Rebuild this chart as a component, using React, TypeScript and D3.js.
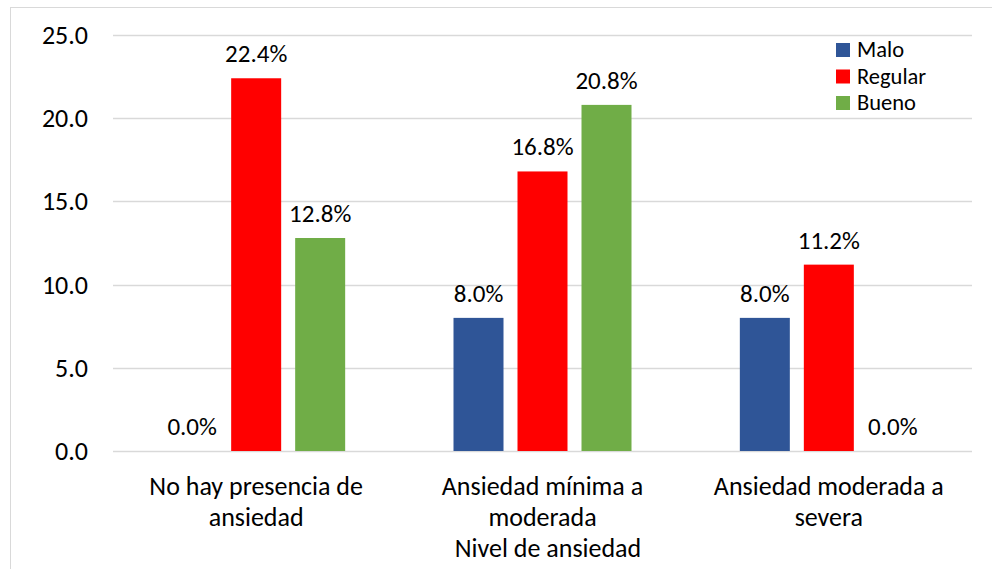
import React, { useEffect, useRef } from "react";
import * as d3 from "d3";

const categories = [
  ["No hay presencia de", "ansiedad"],
  ["Ansiedad mínima a", "moderada"],
  ["Ansiedad moderada a", "severa"],
];
const seriesNames = ["Malo", "Regular", "Bueno"];
const malo = [0.0, 8.0, 8.0];
const regular = [22.4, 16.8, 11.2];
const bueno = [12.8, 20.8, 0.0];
const yTicks = [0, 5, 10, 15, 20, 25];
const colors = ["#2F5597", "#FF0000", "#70AD47"];
const axisTitle = "Nivel de ansiedad";

const FONT = "Carlito, Calibri, Lato, sans-serif";

export default function App() {
  const ref = useRef<SVGSVGElement>(null);
  const width = 992;
  const height = 569;

  useEffect(() => {
    const svg = d3.select(ref.current);
    svg.selectAll("*").remove();

    const left = 113;
    const right = 972;
    const top = 35;
    const bottom = 451;

    const values = [malo, regular, bueno];
    const catKeys = categories.map((c) => c.join(" "));

    // frame of the chart area
    svg.append("line").attr("x1", 10).attr("x2", width).attr("y1", 7.5).attr("y2", 7.5)
      .attr("stroke", "#D9D9D9");
    svg.append("line").attr("x1", 10.5).attr("x2", 10.5).attr("y1", 7).attr("y2", height)
      .attr("stroke", "#D9D9D9");

    const y = d3.scaleLinear().domain([0, 25]).range([bottom, top]);
    const x0 = d3.scaleBand().domain(catKeys).range([left, right]).padding(0);
    const groupW = 178;
    const x1 = d3
      .scaleBand()
      .domain(seriesNames)
      .range([0, groupW])
      .paddingInner(14 / 64)
      .paddingOuter(0);
    const off = (x0.bandwidth() - groupW) / 2;

    // gridlines
    svg.append("g")
      .selectAll("line")
      .data(yTicks)
      .enter()
      .append("line")
      .attr("x1", left)
      .attr("x2", right)
      .attr("y1", (d) => Math.round(y(d)) + 0.5)
      .attr("y2", (d) => Math.round(y(d)) + 0.5)
      .attr("stroke", "#D9D9D9")
      .attr("stroke-width", 1.5);

    // y tick labels
    svg.append("g")
      .selectAll("text")
      .data(yTicks)
      .enter()
      .append("text")
      .attr("x", 88)
      .attr("y", (d) => y(d) + 9)
      .attr("text-anchor", "end")
      .style("font-family", FONT)
      .style("font-size", "26px")
      .style("fill", "#000")
      .text((d) => d3.format(".1f")(d));

    // bars
    seriesNames.forEach((s, si) => {
      const g = svg.append("g");
      g.selectAll("rect")
        .data(values[si])
        .enter()
        .append("rect")
        .attr("x", (d, i) => x0(catKeys[i])! + off + x1(s)!)
        .attr("y", (d) => y(d))
        .attr("width", x1.bandwidth())
        .attr("height", (d) => bottom - y(d))
        .attr("fill", colors[si]);

      g.selectAll("text")
        .data(values[si])
        .enter()
        .append("text")
        .attr("x", (d, i) => x0(catKeys[i])! + off + x1(s)! + x1.bandwidth() / 2)
        .attr("y", (d) => y(d) - 16)
        .attr("text-anchor", "middle")
        .style("font-family", FONT)
        .style("font-size", "25px")
        .style("fill", "#000")
        .text((d) => d3.format(".1f")(d) + "%");
    });

    // category labels
    const cat = svg.append("g");
    categories.forEach((lines, i) => {
      const cx = x0(catKeys[i])! + x0.bandwidth() / 2;
      lines.forEach((l, li) => {
        cat.append("text")
          .attr("x", cx)
          .attr("y", 495 + li * 31)
          .attr("text-anchor", "middle")
          .style("font-family", FONT)
          .style("font-size", "26px")
          .style("fill", "#000")
          .text(l);
      });
    });

    // axis title
    svg.append("text")
      .attr("x", 548)
      .attr("y", 557)
      .attr("text-anchor", "middle")
      .style("font-family", FONT)
      .style("font-size", "26px")
      .style("fill", "#000")
      .text(axisTitle);

    // legend
    const legend = svg.append("g").attr("transform", "translate(836, 43)");
    const items = legend
      .selectAll("g")
      .data(seriesNames)
      .enter()
      .append("g")
      .attr("transform", (d, i) => `translate(0, ${i * 26.5})`);
    items.append("rect")
      .attr("width", 14)
      .attr("height", 14)
      .attr("fill", (d, i) => colors[i]);
    items.append("text")
      .attr("x", 21)
      .attr("y", 14)
      .style("font-family", FONT)
      .style("font-size", "22.5px")
      .style("fill", "#000")
      .text((d) => d);
  }, []);

  return (
    <svg
      ref={ref}
      width={width}
      height={height}
      style={{ position: "absolute", left: 0, top: 0, background: "#fff" }}
    />
  );
}
